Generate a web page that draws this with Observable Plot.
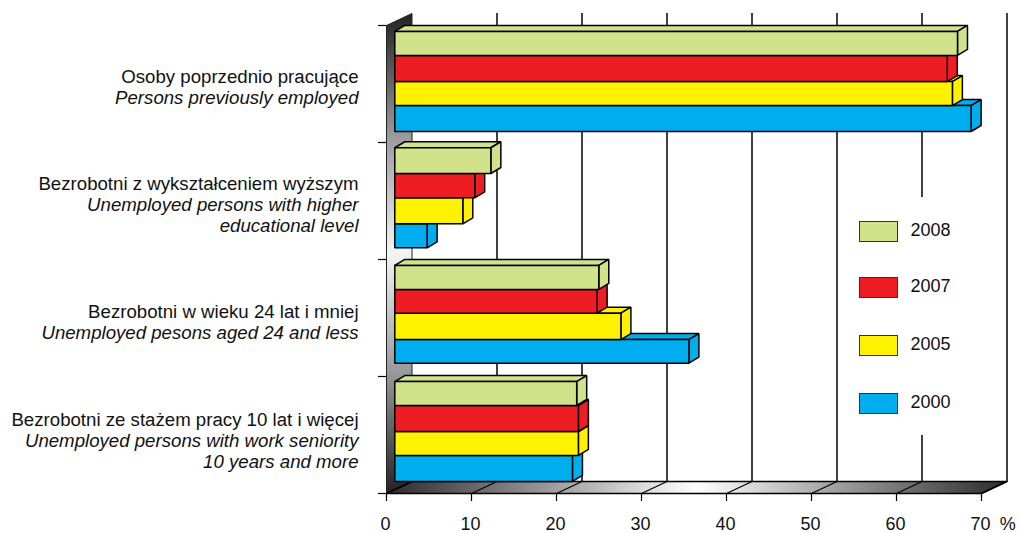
<!DOCTYPE html>
<html><head><meta charset="utf-8">
<script src="https://cdn.jsdelivr.net/npm/d3@7"></script>
<script src="https://cdn.jsdelivr.net/npm/@observablehq/plot@0.6"></script>
<style>
html,body{margin:0;padding:0;background:#fff}
#wrap{position:relative;width:1019px;height:533px;overflow:hidden;font-family:"Liberation Sans",Arial,sans-serif}
#legend{position:absolute;left:846px;top:197px;width:152px;height:238px;background:#fff}
.item{position:absolute;left:12.5px;height:20px}
.sw{position:absolute;left:0;top:0;width:37px;height:19px;border:1px solid #333}
.lb{position:absolute;left:52px;top:-2px;font-size:18px;line-height:22px;color:#111}
</style></head>
<body><div id="wrap"><div id="chart"></div><div id="legend"></div></div>
<script>
const years = ["2008","2007","2005","2000"];
const yearColors = ["#D2E28B","#EE1D24","#FFF200","#00AEEF"];
const previouslyEmployed = [66.2,65.0,65.6,67.8];
const higherEducation = [11.3,9.4,8.0,3.8];
const aged24 = [24.0,23.8,26.6,34.6];
const seniority10 = [21.4,21.6,21.6,20.9];
const series = [previouslyEmployed,higherEducation,aged24,seniority10];
const labelLines = [
  ["Osoby poprzednio pracujące","Persons previously employed"],
  ["Bezrobotni z wykształceniem wyższym","Unemployed persons with higher","educational level"],
  ["Bezrobotni w wieku 24 lat i mniej","Unemployed pesons aged 24 and less"],
  ["Bezrobotni ze stażem pracy 10 lat i więcej","Unemployed persons with work seniority","10 years and more"]
];
const labelCentres = [0.533,1.533,2.535,3.55];
const xTicks = [0,10,20,30,40,50,60,70];
const yTicks = [0,1,2,3,4];

// Scale set-up: one x unit = 8.5px, one y unit (a category) = 117px
const X1 = 70, Y1 = 4;
const wallDX = 3.0, wallDY = 0.1026;    // chart depth, in scale units
const barDX = 1.176, barDY = 0.0513;    // bar depth, in scale units
const rowEdges = [
  [0.051,0.256,0.479,0.684,0.906],
  [1.045,1.265,1.473,1.695,1.900],
  [2.051,2.256,2.459,2.684,2.886],
  [3.043,3.248,3.470,3.675,3.897]
];

const rows = [];
// bottom bars are painted first so upper ones overlap them as in 3-D
for (let g = series.length-1; g >= 0; g--) for (let j = years.length-1; j >= 0; j--) {
  const v = series[g][j], y1 = rowEdges[g][j], y2 = rowEdges[g][j+1];
  const id = g+"-"+j, year = years[j];
  const poly = (name, pts) => pts.forEach(([x,y]) => rows.push({id:id+name, year, x, y}));
  poly("t", [[0,y1],[v,y1],[v+barDX,y1-barDY],[barDX,y1-barDY],[0,y1]]);
  poly("s", [[v,y1],[v+barDX,y1-barDY],[v+barDX,y2-barDY],[v,y2],[v,y1]]);
  poly("f", [[0,y1],[v,y1],[v,y2],[0,y2],[0,y1]]);
}
const floor = [[0,Y1],[X1,Y1],[X1+wallDX,Y1-wallDY],[wallDX,Y1-wallDY],[0,Y1]];
const wall = [[0,0],[0,Y1],[wallDX,Y1-wallDY],[wallDX,-wallDY],[0,0]];
const floorSlats = xTicks.flatMap(t => [{id:t,x:t,y:Y1},{id:t,x:t+wallDX,y:Y1-wallDY}]);
const textRows = labelLines.flatMap((lines,g) => lines.map((text,i) => ({
  text, italic:i>0, y:labelCentres[g]+(i-(lines.length-1)/2)*0.1795})));

const defs = () => {
  const d = d3.create("svg:defs");
  const h = d.append("linearGradient").attr("id","floorGrad").attr("x1",0).attr("x2",1).attr("y1",0).attr("y2",0);
  [[0,"#2b2b2b"],[0.5,"#ffffff"],[1,"#2b2b2b"]].forEach(([o,c])=>h.append("stop").attr("offset",o).attr("stop-color",c));
  const v = d.append("linearGradient").attr("id","wallGrad").attr("x1",0).attr("x2",0).attr("y1",0).attr("y2",1);
  [[0,"#222222"],[0.25,"#98989a"],[0.5,"#f4f4f4"],[0.75,"#98989a"],[1,"#222222"]].forEach(([o,c])=>v.append("stop").attr("offset",o).attr("stop-color",c));
  return d.node();
};

const chart = Plot.plot({
  width:1019, height:533,
  marginLeft:386, marginRight:38, marginTop:25, marginBottom:40,
  style:{background:"#fff",fontFamily:"'Liberation Sans',Arial,sans-serif",fontSize:"18px",overflow:"visible",color:"#111"},
  x:{domain:[0,X1],label:null},
  y:{domain:[0,Y1],reverse:true,label:null},
  color:{domain:years,range:yearColors},
  marks:[
    defs,
    Plot.ruleX(xTicks.slice(1),{x:d=>d+wallDX,y1:-wallDY,y2:Y1-wallDY,stroke:"#000",strokeWidth:1.5}),
    Plot.line(wall,{x:d=>d[0],y:d=>d[1],fill:"url(#wallGrad)",stroke:"#222",strokeWidth:1}),
    Plot.line(floor,{x:d=>d[0],y:d=>d[1],fill:"url(#floorGrad)",stroke:"#000",strokeWidth:1.5}),
    Plot.line(floorSlats,{x:"x",y:"y",z:"id",stroke:"#000",strokeWidth:1.2}),
    Plot.line(rows,{x:"x",y:"y",z:"id",fill:"year",stroke:"#000",strokeWidth:1.5,strokeLinejoin:"miter",dx:8.3}),
    Plot.axisX({ticks:xTicks,tickSize:8,text:null,label:null,stroke:"#000",strokeWidth:1.2,strokeOpacity:1}),
    Plot.axisX({ticks:xTicks,tickSize:0,tickPadding:24,label:null,fontSize:18,dx:-1,fill:"#111"}),
    Plot.axisY({ticks:yTicks,tickSize:8,text:null,label:null,stroke:"#000",strokeWidth:1.2,strokeOpacity:1}),
    Plot.text(["%"],{x:[73.1],y:[Y1],dy:31,fontSize:18,fill:"#111"}),
    Plot.text(textRows.filter(d=>!d.italic),{x:()=>-3.29,y:"y",text:"text",textAnchor:"end",fontSize:18.65,fill:"#111"}),
    Plot.text(textRows.filter(d=>d.italic),{x:()=>-3.29,y:"y",text:"text",textAnchor:"end",fontSize:18.65,fontStyle:"italic",fill:"#111"})
  ]
});
document.getElementById("chart").append(chart);

const legendTops = [23.5,80,138,196];
const legend = document.getElementById("legend");
years.forEach((yr,i)=>{
  const it = document.createElement("div"); it.className="item"; it.style.top=legendTops[i]+"px";
  const s = document.createElement("div"); s.className="sw"; s.style.background=yearColors[i];
  const l = document.createElement("div"); l.className="lb"; l.textContent=yr;
  it.append(s,l); legend.append(it);
});
</script></body></html>
